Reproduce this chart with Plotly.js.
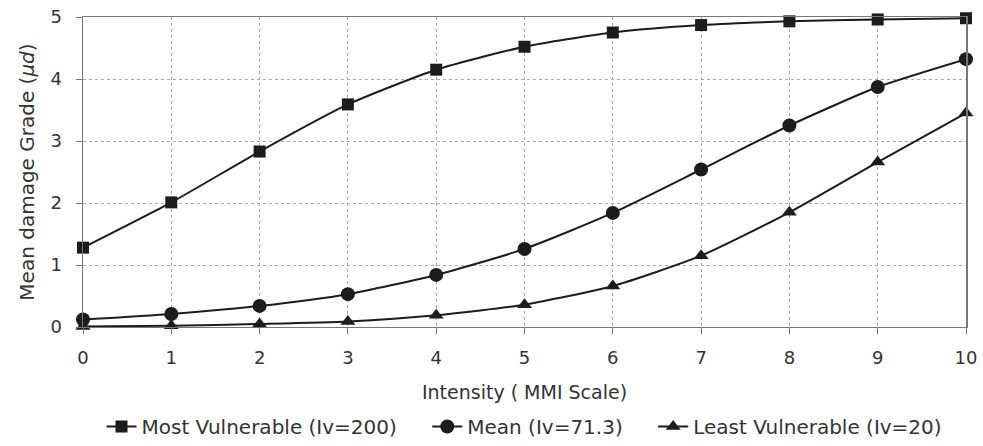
<!DOCTYPE html>
<html>
<head>
<meta charset="utf-8">
<script src="https://cdn.plot.ly/plotly-3.0.1.min.js"></script>
<style>html,body{margin:0;padding:0;background:#fff}#chart{width:983px;height:446px}</style>
</head>
<body>
<div id="chart"></div>
<script>
const intensity = [0,1,2,3,4,5,6,7,8,9,10];
const mostVulnerable = [1.28,2.01,2.83,3.59,4.15,4.52,4.75,4.87,4.93,4.96,4.98];
const meanVuln = [0.12,0.21,0.34,0.53,0.84,1.26,1.84,2.54,3.25,3.87,4.32];
const leastVulnerable = [0.01,0.02,0.05,0.09,0.19,0.36,0.66,1.15,1.85,2.66,3.45];
const seriesNames = ['Most Vulnerable (Iv=200)','Mean (Iv=71.3)','Least Vulnerable (Iv=20)'];

const fontFam = '"DejaVu Sans", sans-serif';
const lineCol = '#1c1c1c';
const txtCol = '#333';
const gapPad = '\u00a0\u00a0\u00a0\u00a0';
function tr(y, name, sym, size){
  return {x: intensity, y: y, name: name, type:'scatter', mode:'lines+markers',
    line:{color:lineCol, width:2, shape:'spline', smoothing:0.6},
    marker:{symbol:sym, size:size, color:lineCol}, cliponaxis:false};
}
const data = [
  tr(mostVulnerable, seriesNames[0] + gapPad, 'square', 12),
  tr(meanVuln, seriesNames[1] + gapPad, 'circle', 14),
  tr(leastVulnerable, seriesNames[2], 'triangle-up', 13)
];
const layout = {
  width:983, height:446,
  margin:{l:83, r:17, t:17, b:0},
  paper_bgcolor:'#fff', plot_bgcolor:'rgba(0,0,0,0)',
  font:{family:fontFam, color:txtCol, size:18},
  showlegend:true,
  legend:{orientation:'h', x:0.5, xanchor:'center', y:0, yanchor:'bottom',
    font:{size:20, color:txtCol}, traceorder:'normal', bgcolor:'rgba(0,0,0,0)'},
  xaxis:{range:[0,10], dtick:1, tick0:0, showgrid:true, gridcolor:'#aaa', griddash:'dot', gridwidth:1,
    showline:true, linecolor:'#777', linewidth:1.5, mirror:true, ticks:'outside', ticklen:6, tickcolor:'#777',
    ticklabelstandoff:8,
    zeroline:false, tickfont:{size:18, color:txtCol},
    title:{text:'Intensity ( MMI Scale)', font:{size:19, color:txtCol}, standoff:18}},
  yaxis:{domain:[0.2774,1], range:[0,5], dtick:1, tick0:0, showgrid:true, gridcolor:'#aaa', griddash:'dot', gridwidth:1,
    showline:true, linecolor:'#777', linewidth:1.5, mirror:true, ticks:'outside', ticklen:6, tickcolor:'#777',
    ticklabelstandoff:10,
    zeroline:false, tickfont:{size:18, color:txtCol},
    title:{text:'Mean damage Grade (<i>μd</i>)', font:{size:20, color:txtCol}, standoff:10}}
};
Plotly.newPlot('chart', data, layout, {staticPlot:true, displayModeBar:false});
</script>
</body>
</html>
